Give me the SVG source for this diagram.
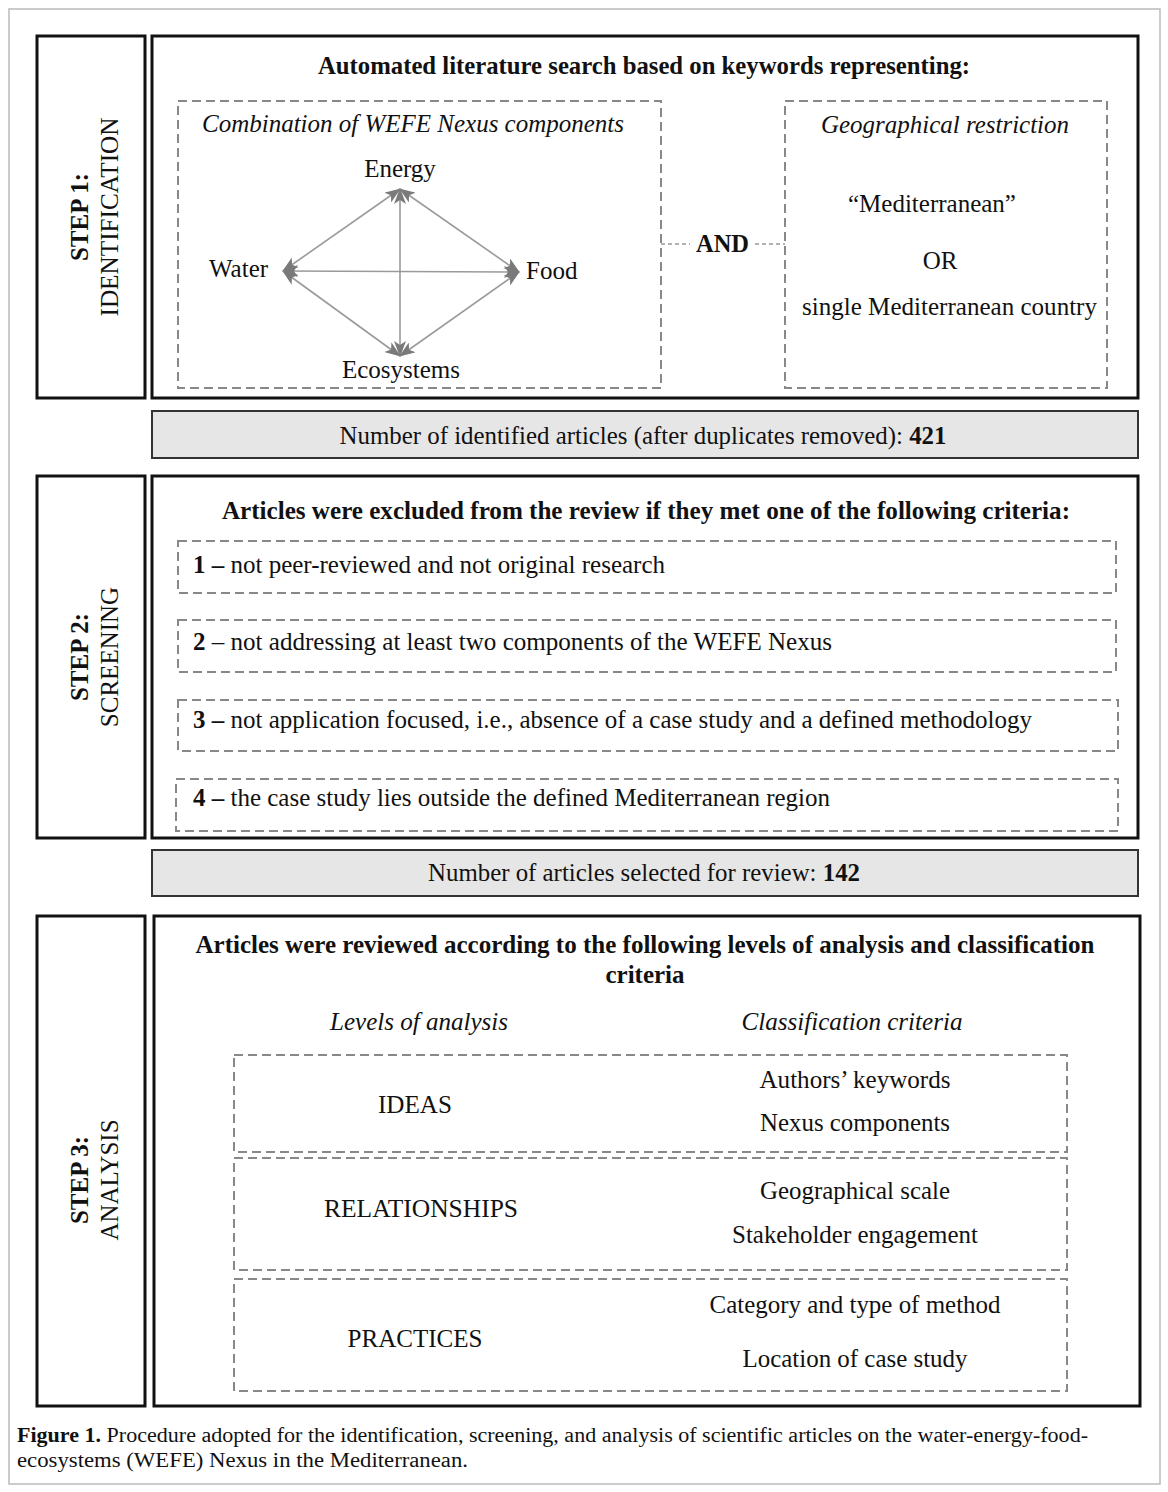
<svg xmlns="http://www.w3.org/2000/svg" width="1168" height="1492" viewBox="0 0 1168 1492">
<style>
text{font-family:"Liberation Serif","Times New Roman",serif;font-size:25px;fill:#111}
.b{font-weight:bold}
.i{font-style:italic}
.m{text-anchor:middle}
.frame{fill:#fff;stroke:#111;stroke-width:3}
.band{fill:#e6e6e6;stroke:#333;stroke-width:2}
.dash{fill:none;stroke:#888;stroke-width:2;stroke-dasharray:9 5}
.dot{fill:none;stroke:#999;stroke-width:1.5;stroke-dasharray:4 3}
.arr{stroke:#9a9a9a;stroke-width:1.6;fill:none;marker-start:url(#ah);marker-end:url(#ah)}
.cap{font-size:20px}
</style>
<defs>
<marker id="ah" viewBox="0 0 16 12" refX="15" refY="6" markerWidth="16" markerHeight="12" markerUnits="userSpaceOnUse" orient="auto-start-reverse">
<path d="M0,0 L16,6 L0,12 L4,6 Z" fill="#7a7a7a"/>
</marker>
</defs>
<rect x="0" y="0" width="1168" height="1492" fill="#fff"/>
<rect x="9" y="9" width="1151" height="1475" fill="#fff" stroke="#bbb" stroke-width="1.5"/>

<g id="step1">
<rect class="frame" x="37" y="36" width="108" height="362"/>
<text class="b m" transform="translate(88,217) rotate(-90)">STEP 1:</text>
<text class="m" transform="translate(118,217) rotate(-90)" textLength="199" lengthAdjust="spacingAndGlyphs">IDENTIFICATION</text>
</g>
<g id="identification">
<rect class="frame" x="152" y="36" width="986" height="362"/>
<text class="b m" x="644" y="74" textLength="652" lengthAdjust="spacingAndGlyphs">Automated literature search based on keywords representing:</text>
</g>
<g id="wefe-components">
<rect class="dash" x="178" y="101" width="483" height="287"/>
<text class="i m" x="413" y="132" textLength="422" lengthAdjust="spacingAndGlyphs">Combination of WEFE Nexus components</text>
</g>
<g id="energy"><text class="m" x="400" y="177">Energy</text></g>
<g id="water"><text x="209" y="277">Water</text></g>
<g id="food"><text x="526" y="279">Food</text></g>
<g id="ecosystems"><text class="m" x="401" y="378">Ecosystems</text></g>
<g id="and"><text class="b" x="696" y="252" textLength="53" lengthAdjust="spacingAndGlyphs">AND</text></g>
<g id="geo-restriction">
<rect class="dash" x="785" y="101" width="322" height="287"/>
<text class="i m" x="945" y="133" textLength="248" lengthAdjust="spacingAndGlyphs">Geographical restriction</text>
<text x="848" y="212">“Mediterranean”</text>
<text class="m" x="940" y="269">OR</text>
<text x="802" y="315" textLength="295" lengthAdjust="spacingAndGlyphs">single Mediterranean country</text>
</g>

<g id="connectors">
<line class="arr" x1="283" y1="271" x2="400" y2="189"/>
<line class="arr" x1="400" y1="189" x2="519" y2="272"/>
<line class="arr" x1="519" y1="272" x2="400" y2="356"/>
<line class="arr" x1="400" y1="356" x2="283" y2="271"/>
<line class="arr" x1="283" y1="271" x2="519" y2="272"/>
<line class="arr" x1="400" y1="189" x2="400" y2="356"/>
<line class="dot" x1="661" y1="244" x2="690" y2="244"/>
<line class="dot" x1="755" y1="244" x2="785" y2="244"/>
</g>

<g id="identified-count">
<rect class="band" x="152" y="411" width="986" height="47"/>
<text class="m" x="643" y="444" textLength="607" lengthAdjust="spacingAndGlyphs">Number of identified articles (after duplicates removed): <tspan class="b">421</tspan></text>
</g>

<g id="step2">
<rect class="frame" x="37" y="476" width="108" height="362"/>
<text class="b m" transform="translate(88,657) rotate(-90)">STEP 2:</text>
<text class="m" transform="translate(118,657) rotate(-90)">SCREENING</text>
</g>
<g id="screening">
<rect class="frame" x="152" y="476" width="986" height="362"/>
<text class="b m" x="646" y="519" textLength="848" lengthAdjust="spacingAndGlyphs">Articles were excluded from the review if they met one of the following criteria:</text>
</g>
<g id="criterion1">
<rect class="dash" x="178" y="541" width="938" height="52"/>
<text x="193" y="573" textLength="472" lengthAdjust="spacingAndGlyphs"><tspan class="b">1 –</tspan> not peer-reviewed and not original research</text>
</g>
<g id="criterion2">
<rect class="dash" x="178" y="620" width="938" height="52"/>
<text x="193" y="650" textLength="639" lengthAdjust="spacingAndGlyphs"><tspan class="b">2</tspan> – not addressing at least two components of the WEFE Nexus</text>
</g>
<g id="criterion3">
<rect class="dash" x="178" y="700" width="940" height="51"/>
<text x="193" y="728" textLength="839" lengthAdjust="spacingAndGlyphs"><tspan class="b">3 –</tspan> not application focused, i.e., absence of a case study and a defined methodology</text>
</g>
<g id="criterion4">
<rect class="dash" x="176" y="779" width="942" height="52"/>
<text x="193" y="806" textLength="637" lengthAdjust="spacingAndGlyphs"><tspan class="b">4 –</tspan> the case study lies outside the defined Mediterranean region</text>
</g>

<g id="selected-count">
<rect class="band" x="152" y="850" width="986" height="46"/>
<text class="m" x="644" y="881" textLength="432" lengthAdjust="spacingAndGlyphs">Number of articles selected for review: <tspan class="b">142</tspan></text>
</g>

<g id="step3">
<rect class="frame" x="37" y="916" width="108" height="490"/>
<text class="b m" transform="translate(88,1180) rotate(-90)">STEP 3:</text>
<text class="m" transform="translate(118,1180) rotate(-90)">ANALYSIS</text>
</g>
<g id="analysis">
<rect class="frame" x="154" y="916" width="986" height="490"/>
<text class="b m" x="645" y="953" textLength="899" lengthAdjust="spacingAndGlyphs">Articles were reviewed according to the following levels of analysis and classification</text>
<text class="b m" x="645" y="983">criteria</text>
<text class="i m" x="419" y="1030" textLength="178" lengthAdjust="spacingAndGlyphs">Levels of analysis</text>
<text class="i m" x="852" y="1030" textLength="221" lengthAdjust="spacingAndGlyphs">Classification criteria</text>
</g>
<g id="ideas">
<rect class="dash" x="234" y="1055" width="833" height="97"/>
<text class="m" x="415" y="1113" textLength="74" lengthAdjust="spacingAndGlyphs">IDEAS</text>
<text class="m" x="855" y="1088" textLength="191" lengthAdjust="spacingAndGlyphs">Authors’ keywords</text>
<text class="m" x="855" y="1131" textLength="190" lengthAdjust="spacingAndGlyphs">Nexus components</text>
</g>
<g id="relationships">
<rect class="dash" x="234" y="1158" width="833" height="112"/>
<text class="m" x="421" y="1217" textLength="194" lengthAdjust="spacingAndGlyphs">RELATIONSHIPS</text>
<text class="m" x="855" y="1199" textLength="190" lengthAdjust="spacingAndGlyphs">Geographical scale</text>
<text class="m" x="855" y="1243" textLength="246" lengthAdjust="spacingAndGlyphs">Stakeholder engagement</text>
</g>
<g id="practices">
<rect class="dash" x="234" y="1279" width="833" height="112"/>
<text class="m" x="415" y="1347" textLength="135" lengthAdjust="spacingAndGlyphs">PRACTICES</text>
<text class="m" x="855" y="1313" textLength="291" lengthAdjust="spacingAndGlyphs">Category and type of method</text>
<text class="m" x="855" y="1367" textLength="225" lengthAdjust="spacingAndGlyphs">Location of case study</text>
</g>

<g id="caption">
<text class="cap" x="17" y="1442" textLength="1071" lengthAdjust="spacingAndGlyphs"><tspan class="b">Figure 1.</tspan> Procedure adopted for the identification, screening, and analysis of scientific articles on the water-energy-food-</text>
<text class="cap" x="17" y="1467" textLength="451" lengthAdjust="spacingAndGlyphs">ecosystems (WEFE) Nexus in the Mediterranean.</text>
</g>
</svg>
